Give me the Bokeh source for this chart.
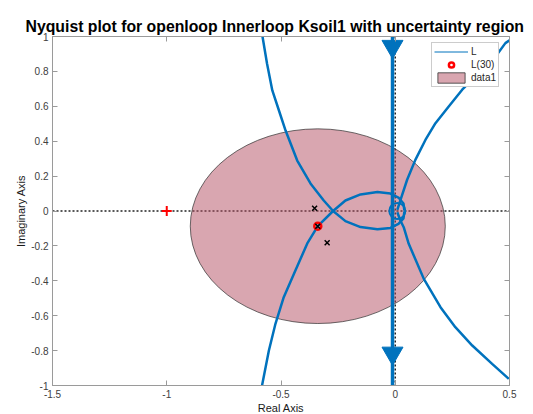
from bokeh.plotting import figure
from bokeh.models import (Span, Legend, LegendItem, LinearAxis, FixedTicker,
                          Range1d, CustomJSTickFormatter)
from bokeh.embed import file_html
from bokeh.resources import INLINE

TITLE = "Nyquist plot for openloop Innerloop Ksoil1 with uncertainty region"
X_LABEL = "Real Axis"
Y_LABEL = "Imaginary Axis"

x_ticks = [-1.5, -1.0, -0.5, 0.0, 0.5]
x_tick_labels = ["-1.5", "-1", "-0.5", "0", "0.5"]
y_ticks = [-1.0, -0.8, -0.6, -0.4, -0.2, 0.0, 0.2, 0.4, 0.6, 0.8, 1.0]
y_tick_labels = ["-1", "-0.8", "-0.6", "-0.4", "-0.2", "0", "0.2", "0.4", "0.6", "0.8", "1"]

# Nyquist curve L (real / imaginary parts)
left_upper_re = [-0.581, -0.561, -0.538, -0.509, -0.480, -0.429, -0.371, -0.313, -0.272]
left_upper_im = [1.000, 0.844, 0.691, 0.576, 0.461, 0.289, 0.158, 0.060, 0.000]
left_lower_re = [-0.272, -0.339, -0.385, -0.437, -0.488, -0.524, -0.553, -0.583]
left_lower_im = [0.000, -0.087, -0.186, -0.341, -0.494, -0.645, -0.799, -1.000]
arc_upper_re = [-0.272, -0.218, -0.152, -0.078, -0.021, 0.014, 0.036, 0.040]
arc_upper_im = [0.000, 0.060, 0.095, 0.109, 0.100, 0.077, 0.043, 0.003]
arc_lower_re = [-0.272, -0.218, -0.152, -0.078, -0.021, 0.014, 0.036, 0.040]
arc_lower_im = [0.000, -0.058, -0.092, -0.104, -0.097, -0.074, -0.042, -0.003]
right_upper_re = [0.009, 0.023, 0.052, 0.088, 0.132, 0.176, 0.234, 0.293, 0.351, 0.439, 0.482, 0.500]
right_upper_im = [0.007, 0.064, 0.179, 0.293, 0.407, 0.503, 0.599, 0.695, 0.771, 0.885, 0.962, 0.978]
right_lower_re = [0.009, 0.021, 0.037, 0.059, 0.125, 0.198, 0.263, 0.337, 0.424, 0.497]
right_lower_im = [-0.007, -0.050, -0.093, -0.188, -0.389, -0.551, -0.666, -0.771, -0.876, -0.962]
vertical_re = [-0.012, -0.012]
vertical_im = [1.0, -1.0]
loop_re = [0.009]
loop_im = [0.0]
loop_w = [0.070]
loop_h = [0.092]
arrow_re = [-0.012, -0.012]
arrow_im = [0.943, -0.815]

# L(30) and uncertainty disc
l30_re = [-0.339]
l30_im = [-0.087]
disc_radius = 0.558
cross_re = [-0.353, -0.339, -0.298]
cross_im = [0.016, -0.087, -0.182]
crit_re = [-1.0]
crit_im = [0.0]

BLUE = "#0072BD"
FONT = "Liberation Sans"
GRAY = "#9a9a9a"
NAN = float("nan")

p = figure(frame_width=457, frame_height=349, width=533, height=413,
           x_range=Range1d(-1.5, 0.5), y_range=Range1d(-1, 1),
           output_backend="svg", toolbar_location=None,
           min_border_left=52, min_border_right=24, min_border_top=36,
           min_border_bottom=28)
p.background_fill_color = "white"
p.border_fill_color = "white"
p.xgrid.visible = False
p.ygrid.visible = False
p.outline_line_color = GRAY
p.outline_line_width = 1

p.title.text = TITLE
p.title.text_font = FONT
p.title.text_font_size = "15.8px"
p.title.text_font_style = "bold"
p.title.text_color = "black"
p.title.align = "left"
p.title.offset = -27
p.title.standoff = 4

fmt_code = ("const i = tvals.findIndex(t => Math.abs(t - tick) < 1e-9);"
            "return i >= 0 ? tlabels[i] : '';")
xfmt = CustomJSTickFormatter(args=dict(tvals=x_ticks, tlabels=x_tick_labels), code=fmt_code)
yfmt = CustomJSTickFormatter(args=dict(tvals=y_ticks, tlabels=y_tick_labels), code=fmt_code)
blank_fmt = CustomJSTickFormatter(code="return '';")

def style_axis(ax, show_labels):
    ax.axis_line_color = GRAY
    ax.major_tick_line_color = GRAY
    ax.major_tick_in = 5
    ax.major_tick_out = 0
    ax.minor_tick_line_color = None
    if show_labels:
        ax.major_label_text_font = FONT
        ax.major_label_text_font_size = "10px"
        ax.major_label_text_color = "#404040"
        ax.major_label_standoff = 4
        ax.axis_label_text_font = FONT
        ax.axis_label_text_font_size = "11px"
        ax.axis_label_text_font_style = "normal"
        ax.axis_label_text_color = "#1a1a1a"
        ax.axis_label_standoff = 1
    else:
        ax.formatter = blank_fmt
        ax.major_label_standoff = 0

p.xaxis.ticker = FixedTicker(ticks=x_ticks)
p.xaxis.formatter = xfmt
p.xaxis.axis_label = X_LABEL
p.yaxis.ticker = FixedTicker(ticks=y_ticks)
p.yaxis.formatter = yfmt
p.yaxis.axis_label = Y_LABEL
style_axis(p.xaxis[0], True)
style_axis(p.yaxis[0], True)

top_ax = LinearAxis(ticker=FixedTicker(ticks=x_ticks))
right_ax = LinearAxis(ticker=FixedTicker(ticks=y_ticks))
style_axis(top_ax, False)
style_axis(right_ax, False)
p.add_layout(top_ax, "above")
p.add_layout(right_ax, "right")

# dotted axes through the origin
p.add_layout(Span(location=0, dimension="width", line_color="#222222",
                  line_width=1.5, line_dash="2 2", level="underlay"))
p.add_layout(Span(location=0, dimension="height", line_color="#222222",
                  line_width=1.5, line_dash="2 2", level="underlay"))

DISC_FILL = "#b34d61"
p.ellipse(x=l30_re, y=l30_im, width=[2 * disc_radius], height=[2 * disc_radius],
          fill_color=DISC_FILL, fill_alpha=0.5, line_color="#333333",
          line_width=0.8, line_alpha=0.9)

for xs, ys in [(left_upper_re, left_upper_im), (left_lower_re, left_lower_im),
               (arc_upper_re, arc_upper_im), (arc_lower_re, arc_lower_im),
               (right_upper_re, right_upper_im), (right_lower_re, right_lower_im)]:
    p.line(xs, ys, line_color=BLUE, line_width=2.5)
p.line(vertical_re, vertical_im, line_color=BLUE, line_width=3.5)
p.ellipse(x=loop_re, y=loop_im, width=loop_w, height=loop_h, fill_color=None,
          line_color=BLUE, line_width=2)
p.scatter(arrow_re, arrow_im, marker="inverted_triangle", size=21,
          fill_color=BLUE, line_color=BLUE)

p.scatter(crit_re, crit_im, marker="cross", size=10, line_color="red", line_width=2)
ring = p.scatter(l30_re, l30_im, marker="circle", size=7, fill_color=None,
                 line_color="red", line_width=2.5)
p.scatter(cross_re, cross_im, marker="x", size=7, line_color="black", line_width=1.5)

# legend-only renderers (not drawn in the plot area)
leg_line = p.line([NAN, NAN], [NAN, NAN], line_color=BLUE, line_width=1)
leg_patch = p.quad(left=[NAN], right=[NAN], top=[NAN], bottom=[NAN], fill_color=DISC_FILL,
                   fill_alpha=0.5, line_color="#333333", line_width=0.8)

legend = Legend(items=[LegendItem(label="L", renderers=[leg_line]),
                       LegendItem(label="L(30)", renderers=[ring]),
                       LegendItem(label="data1", renderers=[leg_patch])],
                location=(379, 298), orientation="vertical",
                glyph_width=34, glyph_height=13, label_height=13,
                label_standoff=3, spacing=0, padding=2, margin=0,
                label_text_font=FONT, label_text_font_size="10px",
                label_text_color="#262626", border_line_color=GRAY,
                border_line_width=1, background_fill_color="white",
                background_fill_alpha=1.0)
p.add_layout(legend, "center")

open("out.html", "w").write(file_html(p, INLINE))
